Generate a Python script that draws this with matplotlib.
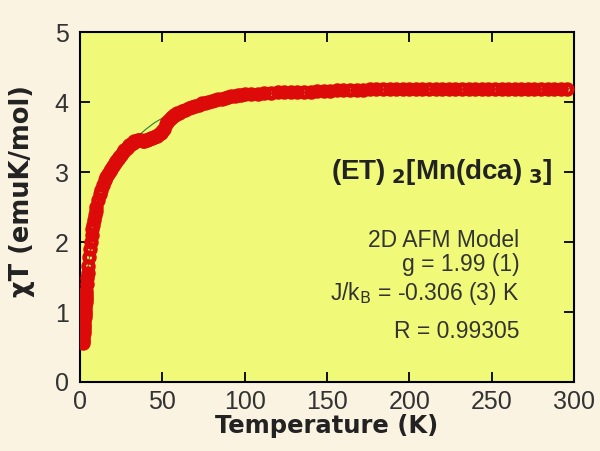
import matplotlib
matplotlib.use("Agg")
import matplotlib.pyplot as plt

low_t = [1.8, 1.9, 2.0, 2.1, 2.2, 2.3, 2.4, 2.5, 2.6, 2.7,
         2.8, 2.9, 3.0, 3.1, 3.2, 3.3, 3.4, 3.5, 3.6, 3.7,
         3.8, 4.0, 4.3, 4.6, 5.0, 5.5, 6.0, 6.5, 7.0, 7.5,
         8.0, 8.5, 9.0, 9.5]
low_chit = [0.56, 0.59, 0.62, 0.66, 0.70, 0.74, 0.78, 0.82, 0.86, 0.90,
            0.93, 0.97, 1.00, 1.04, 1.08, 1.12, 1.15, 1.19, 1.22, 1.26,
            1.30, 1.40, 1.48, 1.56, 1.66, 1.78, 1.90, 2.00, 2.10, 2.18,
            2.25, 2.32, 2.38, 2.44]

mid_t = [10, 11, 12, 13, 14, 15, 16, 17, 18, 19,
         20, 21, 22, 23, 24, 25, 26, 27, 28, 29,
         30, 31, 32, 33, 34, 35, 36, 37, 38, 39,
         40, 41, 42, 43, 44, 45, 46, 47, 48, 49,
         50, 51, 52, 53, 54, 55, 56, 57, 58, 59,
         60]
mid_chit = [2.50, 2.60, 2.68, 2.75, 2.82, 2.88, 2.93, 2.97, 3.01, 3.05,
            3.09, 3.13, 3.16, 3.19, 3.22, 3.25, 3.28, 3.31, 3.33, 3.36,
            3.38, 3.40, 3.42, 3.44, 3.45, 3.46, 3.46, 3.46, 3.45, 3.45,
            3.46, 3.46, 3.47, 3.48, 3.49, 3.50, 3.51, 3.52, 3.54, 3.56,
            3.58, 3.62, 3.68, 3.72, 3.75, 3.77, 3.79, 3.81, 3.82, 3.84,
            3.85]

high_t = [62, 64, 66, 68, 70, 72, 74, 76, 78, 80,
          82, 84, 86, 88, 90, 92, 94, 96, 98, 100,
          104, 108, 112, 116, 120, 124, 128, 132, 136, 140,
          144, 148, 152, 156, 160, 164, 168, 172, 176, 180,
          184, 188, 192, 196, 200, 204, 208, 212, 216, 220,
          224, 228, 232, 236, 240, 244, 248, 252, 256, 260,
          264, 268, 272, 276, 280, 284, 288, 292, 296]
high_chit = [3.87, 3.89, 3.91, 3.93, 3.95, 3.96, 3.98, 3.99, 4.00, 4.02,
             4.03, 4.04, 4.05, 4.06, 4.07, 4.08, 4.09, 4.10, 4.10, 4.11,
             4.12, 4.12, 4.13, 4.13, 4.14, 4.14, 4.14, 4.15, 4.15, 4.15,
             4.16, 4.16, 4.16, 4.17, 4.17, 4.17, 4.17, 4.17, 4.18, 4.18,
             4.18, 4.18, 4.18, 4.18, 4.18, 4.19, 4.19, 4.19, 4.19, 4.19,
             4.19, 4.19, 4.19, 4.19, 4.19, 4.19, 4.19, 4.19, 4.19, 4.19,
             4.19, 4.19, 4.19, 4.19, 4.19, 4.19, 4.19, 4.19, 4.19]

# 2D AFM model fit
fit_t = [2, 5, 10, 15, 20, 25, 30, 35, 40, 45, 50, 55, 60, 70, 80, 100, 150, 200, 300]
fit_chit = [0.62, 1.66, 2.50, 2.88, 3.09, 3.25, 3.40, 3.51, 3.61, 3.70, 3.77, 3.81,
            3.85, 3.94, 4.01, 4.10, 4.16, 4.18, 4.19]

xticks = [0, 50, 100, 150, 200, 250, 300]
yticks = [0, 1, 2, 3, 4, 5]

BG, FACE, RED, INK = "#FBF3E2", "#F0FA78", "#DD0A0A", "#333333"

plt.rcParams["font.family"] = ["Liberation Sans", "DejaVu Sans"]

fig = plt.figure(figsize=(6.0, 4.51), dpi=100, facecolor=BG)
ax = fig.add_axes([0.1333, 0.153, 0.8233, 0.776], facecolor=FACE)

ax.plot(fit_t, fit_chit, color="#2E7D32", lw=0.8, zorder=2)
for t, c in [(low_t, low_chit), (mid_t, mid_chit), (high_t, high_chit)]:
    ax.plot(t, c, "o", mfc="none", mec=RED, ms=7, mew=3.4, zorder=3)

ax.set_xlim(0, 300)
ax.set_ylim(0, 5)
ax.set_xticks(xticks)
ax.set_yticks(yticks)
ax.tick_params(direction="in", length=7, width=1.3, top=True, right=True,
               labelsize=18, labelcolor=INK, pad=6)
ax.tick_params(axis="y", pad=8)
for s in ax.spines.values():
    s.set_linewidth(1.5)

ax.set_xlabel("Temperature (K)", fontsize=17.5, fontweight="bold", color="#222222",
              family="DejaVu Sans", labelpad=0)
ax.set_ylabel("χT (emuK/mol)", fontsize=18.5, fontweight="bold", color="#222222",
              family="DejaVu Sans")
ax.yaxis.set_label_coords(-0.092, 0.545)

ax.text(0.955, 0.60, r"(ET)$_{\ \mathbf{2}}$[Mn(dca)$_{\ \mathbf{3}}$]", transform=ax.transAxes,
        ha="right", va="center", fontsize=20, fontweight="bold", color="#222222")

lines = ["2D AFM Model", "g = 1.99 (1)", r"J/k$_\mathrm{B}$ = -0.306 (3) K", "R = 0.99305"]
ys = [0.405, 0.335, 0.254, 0.143]
for s, y in zip(lines, ys):
    ax.text(0.89, y, s, transform=ax.transAxes, ha="right", va="center",
            fontsize=16.5, color=INK)

fig.savefig("out.png", dpi=100, facecolor=BG)
